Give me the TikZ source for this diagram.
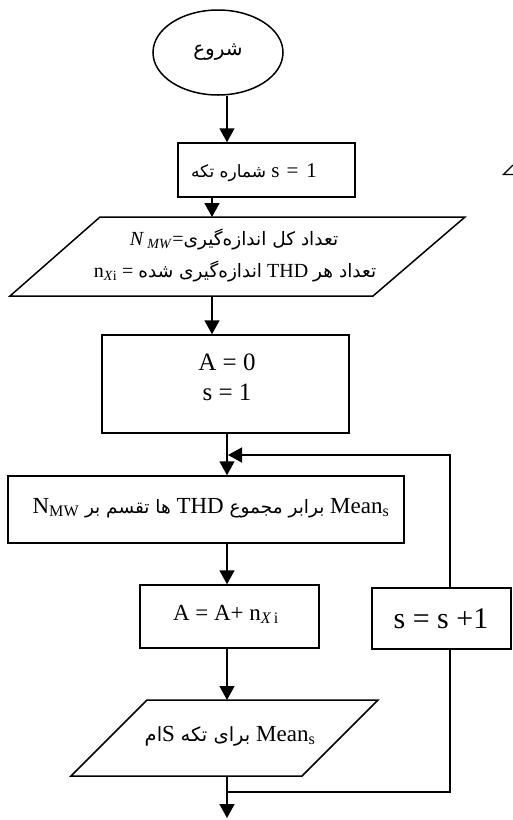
\documentclass[tikz,border=0pt]{standalone}
\usepackage{fontspec}
\setmainfont{Liberation Serif}
\newfontfamily\fa[Script=Arabic]{DejaVu Sans}
\TeXXeTstate=1
\usetikzlibrary{arrows.meta,shapes.geometric}
\newcommand\setfs[1]{\fontsize{#1}{#1}\selectfont}

\tikzset{
  flow/.style={line width=1.5pt},
  arr/.style={flow,-{Triangle[length=14pt,width=15pt]}},
  stepbox/.style={draw,line width=1.5pt,inner sep=0pt},
  txt/.style={inner sep=0pt,anchor=base}
}

\begin{document}
\begin{tikzpicture}[x=1pt,y=-1pt]
\useasboundingbox (0,0) rectangle (513,820);

% connector columns
\coordinate (colA) at (227,0);
\coordinate (colB) at (212,0);
\coordinate (colR) at (450,0);

% start
\node[stepbox,ellipse,minimum width=130,minimum height=85] (start) at (218,52.5)
  {\fa\setfs{20}\beginR شروع\endR};

% segment number
\node[stepbox,minimum width=177,minimum height=54] (seg) at (266.5,170) {};
\node[txt] at (254,177)
  {\setfs{21}\beginR\beginL s\hspace{7pt}=\hspace{8pt}1\endL{} {\fa\setfs{17}شماره تکه}\endR};

% input parallelogram
\coordinate (p1tl) at (100,217);
\coordinate (p1tr) at (465,217);
\coordinate (p1br) at (373,296);
\coordinate (p1bl) at (10,296);
\draw[stepbox] (p1tl) -- (p1tr) -- (p1br) -- (p1bl) -- cycle;
\node[txt] at (234,245)
  {\setfs{20}\beginR{\fa\setfs{18.5}تعداد کل اندازه‌گیری}\beginL\textit{N}\,\textsubscript{\textit{MW}}=\endL\endR};
\node[txt] at (235,277)
  {\setfs{20}\beginR{\fa\setfs{18.5}تعداد هر} THD {\fa\setfs{18.5}اندازه‌گیری شده} \beginL n\textsubscript{\textit{X}i} =\endL\endR};

% initialisation
\node[stepbox,minimum width=247,minimum height=98] (init) at (225.5,384) {};
\node[txt] at (227,370) {\setfs{25}A = 0};
\node[txt] at (227,400) {\setfs{25}s = 1};

% mean
\node[stepbox,minimum width=396,minimum height=67] (mean) at (206,509.5) {};
\node[txt] at (211,513)
  {\setfs{23}\beginR\beginL Mean\textsubscript{s}\endL{} {\fa\setfs{18.5}برابر مجموع} THD {\fa\setfs{18.5}ها تقسم بر} \beginL N\textsubscript{MW}\endL\endR};

% accumulate
\node[stepbox,minimum width=179,minimum height=63] (acc) at (229.5,616.5) {};
\node[txt] at (226,620) {\setfs{23}A = A+ n\textsubscript{\textit{X}\,i}};

% increment
\node[stepbox,minimum width=139,minimum height=61] (inc) at (441.5,618.5) {};
\node[txt] at (441,628) {\setfs{30}s = s +1};

% output parallelogram
\coordinate (p2tl) at (147,700);
\coordinate (p2tr) at (378,700);
\coordinate (p2br) at (302,776);
\coordinate (p2bl) at (71,776);
\draw[stepbox] (p2tl) -- (p2tr) -- (p2br) -- (p2bl) -- cycle;
\node[txt] at (230,741)
  {\setfs{23}\beginR\beginL Mean\textsubscript{s}\endL{} {\fa\setfs{19.5}برای تکه} \beginL S\endL{\fa\setfs{19.5}ام}\endR};

% connectors
\coordinate (loopin) at (228,455);
\coordinate (join) at (227,792);
\coordinate (endpt) at (227,818);
\draw[arr] (start.south -| colA) -- (seg.north -| colA);
\draw[arr] (seg.south -| colB) -- (p1tl -| colB);
\draw[arr] (p1bl -| colB) -- (init.north -| colB);
\draw[arr] (init.south -| colA) -- (mean.north -| colA);
\draw[arr] (mean.south -| colA) -- (acc.north -| colA);
\draw[arr] (acc.south -| colA) -- (p2tl -| colA);
\draw[arr] (p2bl -| colA) -- (endpt);
\draw[arr] (inc.north -| colR) |- (loopin);
\draw[flow] (inc.south -| colR) |- (join);

% stray mark at the right edge
\draw[line width=1.4pt] (513,165) -- (503.5,174.5) -- (513,174.5);
\end{tikzpicture}
\end{document}
